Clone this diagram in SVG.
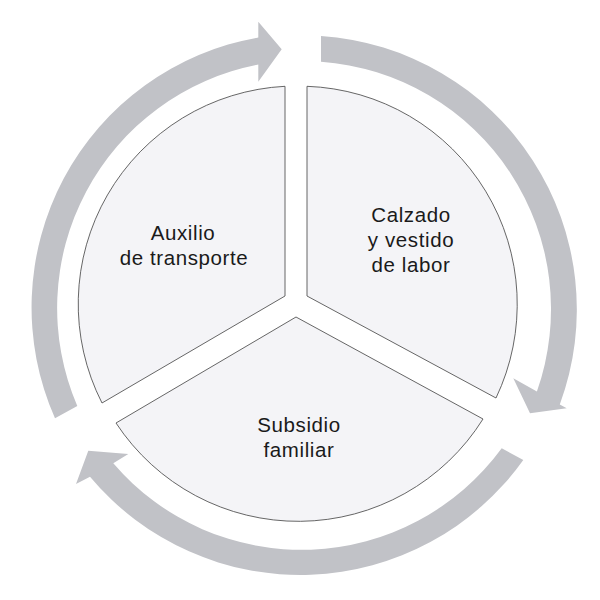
<svg xmlns="http://www.w3.org/2000/svg" width="600" height="600" viewBox="0 0 600 600">
<style>
.sector{fill:#f4f4f7;stroke:#555555;stroke-width:0.9}
.arrow{fill:#c1c2c7;stroke:none}
.lbl{font-family:"Liberation Sans",Arial,sans-serif;font-size:20.5px;letter-spacing:0.6px;fill:#1a1a1a;text-anchor:middle}
</style>
<rect width="600" height="600" fill="#ffffff"/>
<g id="connectors">
<path class="arrow" d="M 55 418.3 A 274 274 0 0 1 258.3 37.5 L 258.3 21.7 L 281.7 49.3 L 258.3 81.7 L 258.3 64.5 A 248 248 0 0 0 77.3 406 Z"/>
<path class="arrow" d="M 321 36 A 274 274 0 0 1 559.8 404.5 L 566.7 408.3 L 530 413.3 L 513.3 378.3 L 536.9 391.5 A 248 248 0 0 0 321 61.7 Z"/>
<path class="arrow" d="M 523.3 460 A 274 274 0 0 1 90 476.7 L 76 484 L 88.3 450.7 L 128.3 454 L 113.3 463.3 A 248 248 0 0 0 501.7 448.3 Z"/>
</g>
<g id="node-auxilio">
<path class="sector" d="M 285 296 L 285 86.3 A 218 218 0 0 0 102 403 Z"/>
<text class="lbl" x="183" y="239.5">Auxilio</text>
<text class="lbl" x="184" y="264.5">de transporte</text>
</g>
<g id="node-calzado">
<path class="sector" d="M 307 296 L 307 86.3 A 218 218 0 0 1 496 398 Z"/>
<text class="lbl" x="411" y="222">Calzado</text>
<text class="lbl" x="411" y="247">y vestido</text>
<text class="lbl" x="411" y="272">de labor</text>
</g>
<g id="node-subsidio">
<path class="sector" d="M 296 317 L 483 419 A 218 218 0 0 1 116 423 Z"/>
<text class="lbl" x="299" y="431.5">Subsidio</text>
<text class="lbl" x="299" y="456.5">familiar</text>
</g>
</svg>
